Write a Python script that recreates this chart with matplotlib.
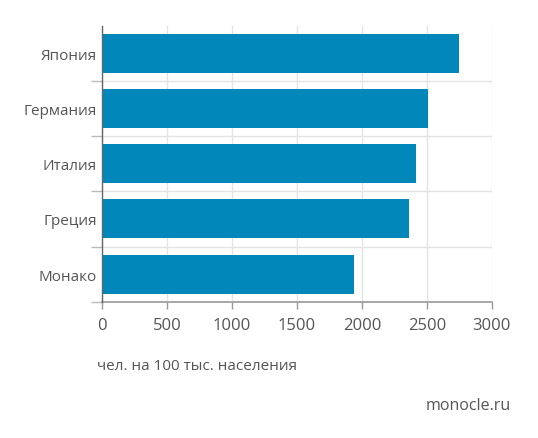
import matplotlib
matplotlib.use("Agg")
import matplotlib.pyplot as plt
import numpy as np

countries = ["Япония", "Германия", "Италия", "Греция", "Монако"]
values = [2750, 2510, 2420, 2360, 1940]
xticks = [0, 500, 1000, 1500, 2000, 2500, 3000]
unit_label = "чел. на 100 тыс. населения"
source = "monocle.ru"

plt.rcParams['font.family'] = ['Open Sans', 'DejaVu Sans']
TEXT = "#555555"
BAR = "#0287bb"
GRID = "#e3e3e3"

W, H = 538, 439
fig = plt.figure(figsize=(W / 100, H / 100), dpi=100)
ax = fig.add_axes([102.3 / W, 1 - 302.7 / H, (491.7 - 102.3) / W, (302.7 - 26.7) / H])

y = np.arange(len(countries))
ax.barh(y, values, height=0.71, color=BAR, zorder=3)
ax.set_ylim(len(countries) - 0.5, -0.5)
ax.set_xlim(0, 3000)
ax.set_xticks(xticks)
ax.set_xticklabels([str(t) for t in xticks])
ax.set_yticks(y)
ax.set_yticklabels(countries)
ax.set_yticks(np.arange(0.5, len(countries)), minor=True)

ax.tick_params(axis='y', which='major', length=0, pad=4, labelsize=11, labelcolor=TEXT)
ax.tick_params(axis='y', which='minor', length=8, color="#bbbbbb", width=1)
ax.tick_params(axis='x', which='major', length=5, color="#999999", width=1, pad=6,
               labelsize=12, labelcolor=TEXT)

ax.grid(axis='x', which='major', color=GRID, lw=1, zorder=0)
ax.grid(axis='y', which='minor', color=GRID, lw=1, zorder=0)
ax.grid(axis='y', which='major', visible=False)

for s in ['top', 'right']:
    ax.spines[s].set_visible(False)
ax.spines['left'].set_color("#666666")
ax.spines['left'].set_linewidth(1)
ax.spines['bottom'].set_color("#999999")
ax.spines['bottom'].set_linewidth(1.2)
ax.spines['left'].set_zorder(4)

fig.text(96.7 / W, 1 - 366 / H, unit_label, ha='left', va='center', fontsize=11, color=TEXT)
fig.text(511 / W, 1 - 406.5 / H, source, ha='right', va='center', fontsize=11.5, color=TEXT)

fig.savefig("out.png", dpi=100, facecolor="white")
